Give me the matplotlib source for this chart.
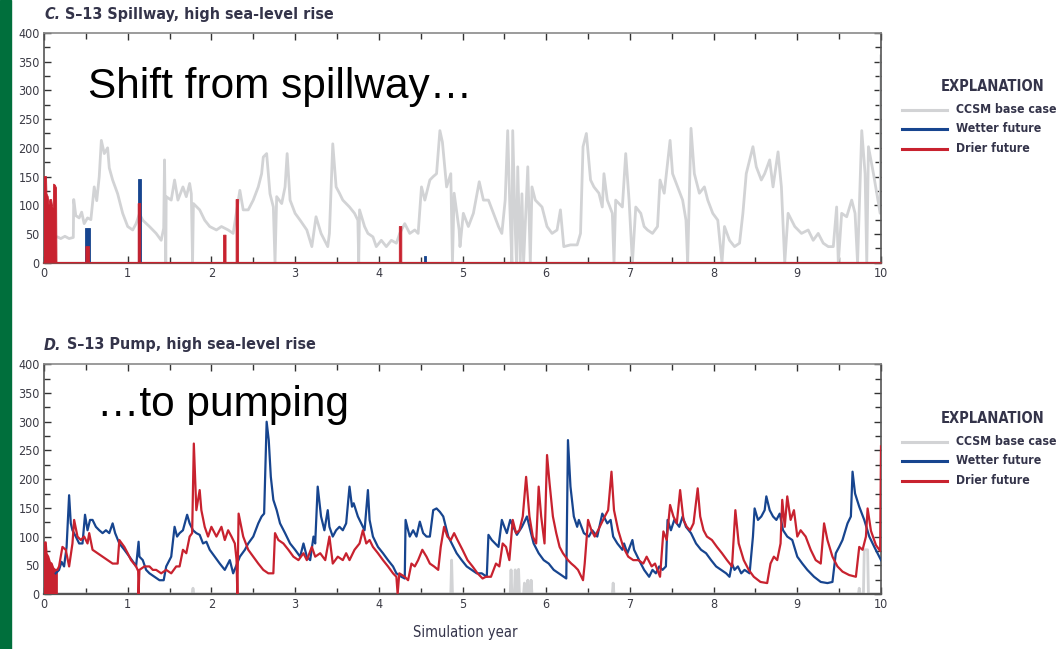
import matplotlib
matplotlib.use("Agg")
import matplotlib.pyplot as plt
from matplotlib import font_manager as fm
import numpy as np

# ---------------- data ----------------
years_axis_ticks = list(range(0, 11))
y_ticks = [0, 50, 100, 150, 200, 250, 300, 350, 400]

# Panel C: CCSM base case (spillway)
base_c_years = [0.0, 0.16, 0.2, 0.25, 0.3, 0.35, 0.355, 0.38, 0.42, 0.45, 0.48, 0.52, 0.56, 0.6, 0.63, 0.66,
                0.685, 0.72, 0.76, 0.78, 0.82, 0.88, 0.94, 1.0, 1.06, 1.1, 1.14, 1.18, 1.26, 1.34, 1.4, 1.43,
                1.44, 1.455, 1.46, 1.52, 1.56, 1.6, 1.66, 1.7, 1.74, 1.76, 1.775, 1.785, 1.86, 1.92, 1.98,
                2.06, 2.12, 2.2, 2.26, 2.34, 2.38, 2.44, 2.5, 2.56, 2.6, 2.62, 2.66, 2.7, 2.74, 2.76, 2.78,
                2.84, 2.88, 2.905, 2.94, 3.0, 3.06, 3.14, 3.2, 3.25, 3.31, 3.39, 3.41, 3.45, 3.49, 3.53,
                3.57, 3.65, 3.71, 3.75, 3.76, 3.77, 3.83, 3.87, 3.93, 3.97, 4.03, 4.09, 4.15, 4.21, 4.25,
                4.31, 4.37, 4.43, 4.47, 4.51, 4.55, 4.61, 4.65, 4.69, 4.73, 4.76, 4.81, 4.86, 4.88, 4.9,
                4.96, 4.97, 5.01, 5.07, 5.13, 5.2, 5.25, 5.31, 5.37, 5.43, 5.47, 5.51, 5.54, 5.565, 5.59,
                5.6, 5.63, 5.645, 5.66, 5.69, 5.71, 5.73, 5.78, 5.81, 5.83, 5.87, 5.95, 6.01, 6.07, 6.13,
                6.17, 6.21, 6.29, 6.37, 6.41, 6.44, 6.48, 6.53, 6.57, 6.63, 6.67, 6.69, 6.73, 6.79, 6.81,
                6.83, 6.91, 6.95, 6.99, 7.03, 7.07, 7.13, 7.17, 7.21, 7.27, 7.33, 7.36, 7.41, 7.48, 7.51,
                7.57, 7.63, 7.67, 7.69, 7.73, 7.77, 7.83, 7.89, 7.93, 7.99, 8.05, 8.1, 8.13, 8.19, 8.25,
                8.31, 8.35, 8.39, 8.47, 8.51, 8.57, 8.61, 8.67, 8.71, 8.77, 8.81, 8.85, 8.89, 8.97, 9.05,
                9.13, 9.19, 9.25, 9.31, 9.37, 9.43, 9.47, 9.49, 9.53, 9.59, 9.65, 9.69, 9.72, 9.77, 9.81,
                9.83, 9.85, 9.91, 9.95, 9.99, 10.0]
base_c_vals = [45, 45, 42, 46, 42, 44, 110, 82, 78, 88, 68, 78, 75, 132, 108, 150,
               213, 190, 200, 165, 144, 120, 86, 63, 57, 68, 85, 74, 63, 51, 39, 60,
               179, 0, 115, 109, 144, 109, 132, 115, 138, 120, 0, 103, 92, 74, 63,
               57, 63, 57, 51, 126, 92, 92, 109, 132, 155, 184, 190, 120, 97, 0, 115,
               103, 132, 190, 109, 86, 74, 57, 28, 80, 51, 28, 51, 207, 132, 121,
               109, 97, 86, 74, 0, 92, 63, 51, 45, 28, 39, 28, 39, 34, 51,
               68, 51, 57, 51, 132, 109, 144, 150, 155, 230, 210, 132, 155, 0, 121,
               57, 28, 86, 63, 86, 141, 109, 109, 86, 63, 51, 109, 230, 100, 0,
               230, 60, 0, 167, 0, 120, 0, 167, 0, 132, 109, 97, 63, 51, 57,
               92, 28, 31, 31, 51, 202, 225, 144, 132, 121, 97, 155, 109, 86, 0,
               109, 97, 190, 109, 0, 97, 86, 63, 57, 51, 63, 144, 121, 213, 155,
               132, 109, 74, 0, 234, 155, 121, 132, 109, 86, 74, 0, 63, 39, 28,
               34, 86, 155, 202, 167, 144, 155, 179, 132, 193, 132, 0, 86, 63, 51,
               57, 39, 51, 34, 28, 28, 97, 0, 86, 80, 109, 86, 0, 230, 155,
               0, 202, 155, 121, 86, 360]

# Panel C: wetter future (spillway)
wet_c_years = [0.0, 0.49, 0.49, 0.545, 0.545, 1.12, 1.12, 1.155, 1.155, 4.54, 4.54, 4.56, 4.56, 10.0]
wet_c_vals = [0, 0, 61, 61, 0, 0, 145, 145, 0, 0, 12, 12, 0, 0]

# Panel C: drier future (spillway)
dry_c_years = [0.0, 0.0, 0.03, 0.035, 0.05, 0.06, 0.07, 0.09, 0.1, 0.11, 0.115, 0.135, 0.15, 0.155,
               0.5, 0.5, 0.545, 0.545, 1.125, 1.125, 1.155, 1.155, 2.145, 2.145, 2.175, 2.175,
               2.295, 2.295, 2.325, 2.325, 4.245, 4.245, 4.275, 4.275, 10.0]
dry_c_vals = [0, 150, 150, 120, 115, 100, 110, 110, 100, 95, 137, 135, 130, 0,
              0, 28, 28, 0, 0, 103, 103, 0, 0, 48, 48, 0,
              0, 110, 110, 0, 0, 63, 63, 0, 0]

# Panel D: CCSM base case (pump)
base_d_years = [0.0, 1.77, 1.78, 1.79, 4.86, 4.87, 4.88, 5.57, 5.58, 5.59, 5.62, 5.63, 5.64, 5.66, 5.67,
                5.68, 5.73, 5.74, 5.75, 5.77, 5.78, 5.79, 5.81, 5.82, 5.83, 6.79, 6.8, 6.81, 9.73, 9.74,
                9.75, 9.79, 9.8, 9.84, 9.85, 10.0]
base_d_vals = [0, 0, 10, 0, 0, 59, 0, 0, 42, 0, 0, 42, 0, 0, 43,
               0, 0, 19, 0, 0, 24, 0, 0, 24, 0, 0, 19, 0, 0, 10,
               0, 0, 77, 77, 0, 0]

# Panel D: wetter future (pump)
wet_d_years = [0.14, 0.18, 0.21, 0.24, 0.27, 0.3, 0.32, 0.34, 0.38, 0.42, 0.46, 0.49, 0.52, 0.55, 0.58,
               0.62, 0.66, 0.7, 0.74, 0.78, 0.82, 0.85, 0.9, 0.96, 1.02, 1.08, 1.1, 1.13, 1.14, 1.18,
               1.22, 1.26, 1.32, 1.38, 1.43, 1.46, 1.52, 1.56, 1.59, 1.62, 1.66, 1.71, 1.74, 1.78, 1.82,
               1.86, 1.9, 1.94, 1.98, 2.04, 2.1, 2.16, 2.22, 2.26, 2.34, 2.4, 2.44, 2.5, 2.56, 2.6,
               2.63, 2.66, 2.685, 2.71, 2.74, 2.78, 2.82, 2.88, 2.94, 3.0, 3.06, 3.1, 3.14, 3.18, 3.22,
               3.24, 3.27, 3.31, 3.35, 3.39, 3.41, 3.45, 3.49, 3.53, 3.57, 3.61, 3.65, 3.68, 3.7, 3.75,
               3.79, 3.83, 3.87, 3.89, 3.93, 3.99, 4.05, 4.11, 4.17, 4.21, 4.27, 4.31, 4.32, 4.35, 4.37,
               4.41, 4.45, 4.49, 4.53, 4.57, 4.61, 4.65, 4.69, 4.73, 4.77, 4.83, 4.93, 4.99, 5.05, 5.11,
               5.17, 5.23, 5.29, 5.31, 5.35, 5.39, 5.43, 5.47, 5.5, 5.53, 5.57, 5.65, 5.71, 5.77, 5.81,
               5.85, 5.91, 5.97, 6.03, 6.09, 6.15, 6.21, 6.24, 6.26, 6.29, 6.33, 6.37, 6.39, 6.45, 6.51,
               6.55, 6.61, 6.67, 6.73, 6.77, 6.8, 6.85, 6.91, 6.93, 6.97, 7.03, 7.05, 7.11, 7.17, 7.23,
               7.27, 7.31, 7.35, 7.39, 7.43, 7.45, 7.49, 7.53, 7.59, 7.63, 7.67, 7.73, 7.79, 7.85, 7.91,
               7.97, 8.03, 8.09, 8.15, 8.19, 8.22, 8.25, 8.29, 8.33, 8.37, 8.43, 8.47, 8.49, 8.53, 8.57,
               8.61, 8.63, 8.67, 8.71, 8.75, 8.79, 8.83, 8.88, 8.94, 9.0, 9.06, 9.12, 9.2, 9.28, 9.36,
               9.42, 9.46, 9.5, 9.54, 9.6, 9.64, 9.66, 9.69, 9.74, 9.8, 9.86, 9.92, 9.98, 10.0]
wet_d_vals = [36, 42, 56, 48, 82, 172, 123, 111, 100, 88, 88, 138, 111, 129, 129,
              117, 111, 106, 111, 106, 123, 106, 88, 77, 65, 53, 48, 91, 65, 59,
              42, 36, 30, 24, 24, 48, 65, 117, 100, 106, 111, 138, 123, 111, 106,
              103, 88, 91, 77, 65, 53, 42, 59, 36, 65, 77, 88, 100, 123, 135,
              140, 300, 268, 204, 164, 146, 123, 106, 88, 77, 65, 88, 65, 59, 100,
              88, 187, 135, 111, 146, 117, 100, 111, 117, 111, 123, 187, 152, 158, 135,
              123, 111, 181, 129, 100, 82, 71, 59, 48, 36, 30, 27, 129, 111, 100,
              111, 100, 126, 106, 100, 100, 146, 149, 143, 135, 100, 71, 59, 48, 42,
              36, 36, 30, 103, 94, 88, 82, 129, 117, 106, 129, 103, 117, 135, 111,
              88, 71, 59, 53, 42, 36, 30, 27, 268, 187, 135, 117, 129, 106, 100,
              111, 100, 140, 123, 129, 100, 88, 77, 88, 71, 94, 77, 59, 42, 30,
              42, 36, 48, 42, 48, 129, 111, 129, 117, 135, 117, 106, 88, 77, 71,
              59, 48, 42, 36, 30, 53, 42, 48, 36, 42, 36, 100, 149, 129, 135,
              146, 170, 146, 135, 129, 140, 111, 100, 94, 65, 53, 42, 30, 21, 19,
              21, 71, 82, 94, 123, 135, 213, 175, 152, 129, 100, 82, 65, 59]

# Panel D: drier future (pump)
dry_d_years = [0.0, 0.02, 0.03, 0.05, 0.07, 0.09, 0.11, 0.13, 0.16, 0.18, 0.22, 0.26, 0.3, 0.34, 0.36,
               0.4, 0.44, 0.48, 0.52, 0.54, 0.58, 0.64, 0.7, 0.76, 0.82, 0.88, 0.9, 0.96, 1.0, 1.04,
               1.1, 1.125, 1.13, 1.14, 1.2, 1.26, 1.3, 1.34, 1.4, 1.46, 1.52, 1.58, 1.62, 1.66, 1.7,
               1.74, 1.77, 1.79, 1.82, 1.86, 1.88, 1.92, 1.96, 2.0, 2.06, 2.12, 2.16, 2.2, 2.24, 2.28,
               2.3, 2.31, 2.325, 2.38, 2.44, 2.5, 2.56, 2.62, 2.68, 2.74, 2.76, 2.8, 2.86, 2.92, 2.98,
               3.04, 3.1, 3.14, 3.2, 3.24, 3.3, 3.36, 3.41, 3.45, 3.51, 3.57, 3.61, 3.65, 3.71, 3.77,
               3.81, 3.85, 3.89, 3.93, 3.99, 4.05, 4.11, 4.17, 4.21, 4.225, 4.245, 4.31, 4.35, 4.39, 4.43,
               4.47, 4.52, 4.57, 4.61, 4.66, 4.71, 4.74, 4.78, 4.82, 4.86, 4.9, 4.94, 5.0, 5.06, 5.12,
               5.18, 5.24, 5.28, 5.34, 5.4, 5.44, 5.48, 5.52, 5.56, 5.6, 5.64, 5.68, 5.72, 5.76, 5.8,
               5.84, 5.88, 5.91, 5.94, 5.98, 6.01, 6.04, 6.08, 6.12, 6.16, 6.2, 6.26, 6.3, 6.34, 6.38,
               6.44, 6.46, 6.5, 6.54, 6.58, 6.62, 6.66, 6.7, 6.74, 6.78, 6.81, 6.86, 6.92, 6.98, 7.04,
               7.1, 7.16, 7.2, 7.26, 7.3, 7.36, 7.4, 7.44, 7.48, 7.52, 7.56, 7.6, 7.64, 7.68, 7.72,
               7.76, 7.81, 7.84, 7.88, 7.92, 7.98, 8.04, 8.1, 8.16, 8.22, 8.26, 8.3, 8.36, 8.42, 8.48,
               8.56, 8.64, 8.68, 8.72, 8.76, 8.8, 8.82, 8.85, 8.88, 8.92, 8.96, 9.0, 9.04, 9.1, 9.16,
               9.22, 9.28, 9.32, 9.36, 9.42, 9.48, 9.54, 9.62, 9.7, 9.74, 9.78, 9.82, 9.84, 9.88, 9.94,
               9.99, 10.0]
dry_d_vals = [88, 90, 70, 65, 55, 53, 45, 42, 42, 48, 82, 77, 48, 88, 129,
              100, 94, 100, 88, 106, 77, 71, 65, 59, 53, 53, 94, 82, 71, 59,
              48, 40, 0, 42, 48, 48, 42, 42, 36, 42, 36, 48, 48, 77, 71,
              100, 106, 262, 146, 181, 146, 117, 100, 117, 100, 117, 94, 111, 100, 88,
              60, 0, 140, 100, 77, 65, 53, 42, 36, 36, 106, 94, 88, 77, 65,
              59, 71, 59, 82, 65, 71, 59, 100, 53, 65, 59, 71, 59, 77, 88,
              111, 88, 94, 82, 71, 59, 48, 36, 30, 0, 36, 30, 24, 53, 48,
              59, 77, 65, 53, 48, 42, 82, 117, 100, 94, 106, 94, 77, 59, 48,
              36, 27, 30, 30, 53, 48, 88, 82, 59, 129, 106, 111, 135, 204, 135,
              100, 88, 187, 135, 88, 242, 193, 135, 106, 82, 71, 59, 53, 48, 42,
              24, 53, 129, 111, 100, 111, 123, 135, 146, 213, 146, 111, 82, 65, 59,
              59, 53, 65, 48, 53, 30, 109, 94, 155, 135, 123, 181, 129, 117, 111,
              123, 184, 135, 111, 100, 94, 82, 71, 59, 48, 146, 88, 59, 42, 30,
              21, 19, 53, 65, 59, 88, 164, 117, 170, 129, 146, 100, 111, 100, 77,
              59, 53, 123, 94, 65, 48, 39, 33, 30, 82, 77, 100, 149, 110, 85,
              75, 257]
dry_d_block_end = 0.16  # drier-future daily values fill the first weeks densely

legend_labels = ["CCSM base case", "Wetter future", "Drier future"]
titles = [("C.", " S\u201313 Spillway, high sea-level rise"), ("D.", " S\u201313 Pump, high sea-level rise")]
notes = ["Shift from spillway\u2026", "\u2026to pumping"]
xlabel = "Simulation year"

# ---------------- style ----------------
GRAY = "#d2d3d5"
BLUE = "#17458f"
RED = "#c8222f"
INK = "#34344a"
TICK = "#3a3a44"

avail = {f.name for f in fm.fontManager.ttflist}
NARROW = "Liberation Sans Narrow" if "Liberation Sans Narrow" in avail else "DejaVu Sans"
ARIAL = "Liberation Sans" if "Liberation Sans" in avail else "DejaVu Sans"
nstretch = "condensed"

W, H = 1063, 649
fig = plt.figure(figsize=(W / 100, H / 100), dpi=100)
fig.patch.set_facecolor("white")

# green side bar
fig.add_artist(plt.Rectangle((0, 0), 11 / W, 1, transform=fig.transFigure, color="#006f3c", zorder=0))


def fx(px):
    return px / W


def fy(py):
    return 1 - py / H


ax_c = fig.add_axes([fx(44), fy(262.7), fx(881) - fx(44), fy(33) - fy(262.7)])
ax_d = fig.add_axes([fx(44), fy(594), fx(881) - fx(44), fy(364.3) - fy(594)])


def style_axes(ax, bottom_color):
    ax.set_xlim(0, 10)
    ax.set_ylim(0, 400)
    ax.set_xticks(years_axis_ticks)
    ax.set_xticks(np.arange(0, 10.01, 0.5), minor=True)
    ax.set_yticks(y_ticks)
    ax.set_yticks(np.arange(0, 401, 25), minor=True)
    ax.tick_params(axis="both", which="both", direction="in", top=True, right=True,
                   color="#333333", width=1.0, labelcolor=TICK)
    ax.tick_params(axis="both", which="major", length=5, pad=3)
    ax.tick_params(axis="both", which="minor", length=4)
    for lab in ax.get_xticklabels() + ax.get_yticklabels():
        lab.set_fontfamily(NARROW)
        lab.set_fontsize(9)
        lab.set_fontstretch(nstretch)
    for s in ax.spines.values():
        s.set_color("#555555")
        s.set_linewidth(1.2)
    ax.spines["top"].set_color("#8a8a8a")
    ax.spines["bottom"].set_color(bottom_color)
    ax.spines["bottom"].set_linewidth(1.6)


style_axes(ax_c, "#8a4a4a")
style_axes(ax_d, "#555555")

# Panel C: future releases drawn as filled polygons closed along zero
ax_c.plot(base_c_years, base_c_vals, color=GRAY, lw=2.0, zorder=2)
ax_c.fill(wet_c_years, wet_c_vals, color=BLUE, lw=0.6, ec=BLUE, zorder=3)
ax_c.fill(dry_c_years, dry_c_vals, color=RED, lw=0.6, ec=RED, zorder=4)

# Panel D
ax_d.plot(base_d_years, base_d_vals, color=GRAY, lw=2.0, zorder=2)
dy = np.array(dry_d_years)
dv = np.array(dry_d_vals)
blk = dy <= dry_d_block_end
ax_d.fill(np.r_[dy[blk], dy[blk][-1], 0.0], np.r_[dv[blk], 0, 0], color=RED, lw=0.6, ec=RED, zorder=3)
ax_d.plot(wet_d_years, wet_d_vals, color=BLUE, lw=1.6, zorder=3)
ax_d.plot(dry_d_years, dry_d_vals, color=RED, lw=1.6, zorder=4)

# Titles
fig.canvas.draw()
renderer = fig.canvas.get_renderer()
for (lead, rest), base_py in [(titles[0], 19), (titles[1], 349.5)]:
    t1 = fig.text(fx(44), fy(base_py), lead, fontfamily=NARROW, fontstretch=nstretch, fontsize=11.5,
                  fontweight="bold", fontstyle="italic", color=INK, va="baseline", ha="left")
    bb = t1.get_window_extent(renderer=renderer)
    fig.text(bb.x1 / W, fy(base_py), rest, fontfamily=NARROW, fontstretch=nstretch, fontsize=11.5,
             fontweight="bold", color=INK, va="baseline", ha="left")

# big annotation texts
fig.text(fx(88), fy(98), notes[0], fontfamily=ARIAL, fontsize=30.5, color="black", va="baseline", ha="left")
fig.text(fx(97), fy(416), notes[1], fontfamily=ARIAL, fontsize=30.5, color="black", va="baseline", ha="left")


# Legends
def explanation(top_py):
    fig.text(fx(993), fy(top_py), "EXPLANATION", fontfamily=NARROW, fontstretch=nstretch, fontsize=10.5,
             fontweight="bold", color=INK, ha="center", va="center")
    for i, (lab, col) in enumerate(zip(legend_labels, [GRAY, BLUE, RED])):
        yy = top_py + 23 + i * 19.5
        fig.add_artist(plt.Line2D([fx(902), fx(947)], [fy(yy), fy(yy)], transform=fig.transFigure,
                                  color=col, lw=2.2))
        fig.text(fx(956), fy(yy), lab, fontfamily=NARROW, fontstretch=nstretch, fontsize=8.8,
                 fontweight="bold", color=INK, ha="left", va="center")


explanation(86.5)
explanation(418.5)

fig.text(fx(465), fy(632), xlabel, fontfamily=NARROW, fontstretch=nstretch, fontsize=10.5,
         color=INK, ha="center", va="center")

fig.savefig("out.png", dpi=100, facecolor="white")
